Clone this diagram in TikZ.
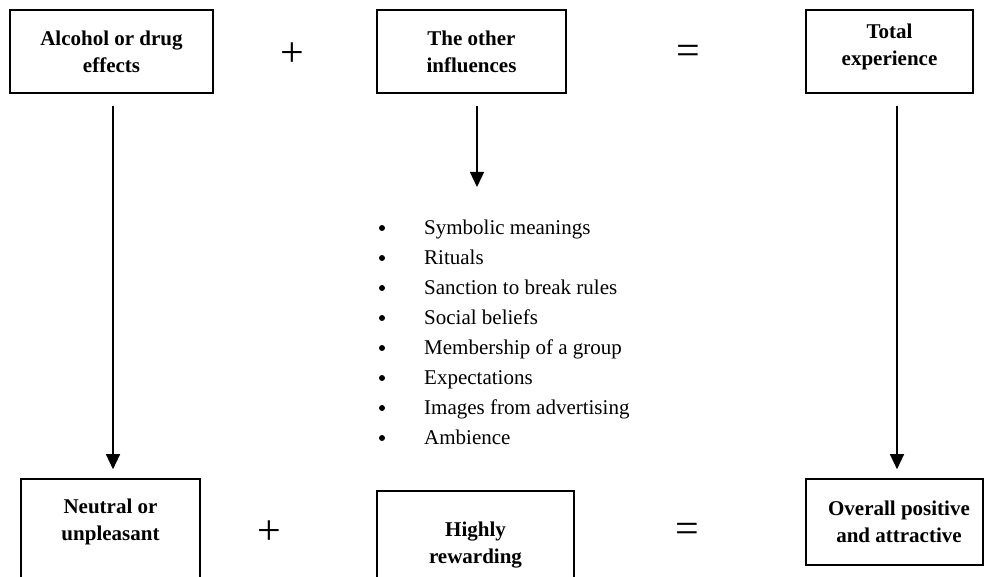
\documentclass[tikz,border=0pt]{standalone}
\usepackage{fontspec}
\setmainfont{Liberation Serif}
\usetikzlibrary{arrows.meta}
\tikzset{
  box/.style={draw, line width=1.6pt, inner sep=0pt, align=center},
  boxtext/.style={font=\fontsize{21}{27}\selectfont\bfseries, align=center, inner sep=0pt},
  arr/.style={line width=1.3pt, -{Triangle[width=14pt,length=15pt]}},
  op/.style={font=\fontsize{42}{42}\selectfont, inner sep=0pt},
  item/.style={font=\fontsize{21}{25}\selectfont, anchor=mid west, inner sep=0pt},
  dot/.style={circle, fill=black, inner sep=0pt, minimum size=6pt}
}
\begin{document}
\begin{tikzpicture}[x=1pt, y=-1pt]
\useasboundingbox (0,0) rectangle (984,577);
\clip (0,0) rectangle (984,577);
% top row
\node[box, boxtext, minimum width=203pt, minimum height=83pt] (b1) at (111.5,51.5) {Alcohol or drug\\effects};
\node[box, boxtext, minimum width=189pt, minimum height=83pt] (b2) at (471.5,51.5) {The other\\influences};
\node[box, minimum width=167pt, minimum height=83pt] (b3) at (889.5,51.5) {};
\node[boxtext] (t3) at (889.5,46.5) {Total\\experience};
\node[op] (p1) at (292,55) {+};
\node[op] (e1) at (688,55) {=};
% bottom row
\node[box, minimum width=179pt, minimum height=121pt] (b4) at (110.5,539.5) {};
\node[boxtext] (t4) at (110.5,522) {Neutral or\\unpleasant};
\node[box, minimum width=197pt, minimum height=109pt] (b5) at (475.5,545.5) {};
\node[boxtext] (t5) at (475.5,545) {Highly\\rewarding};
\node[box, minimum width=177pt, minimum height=86pt] (b6) at (894.5,522) {};
\node[boxtext] (t6) at (899,522) {Overall positive\\and attractive};
\node[op] (p2) at (269,533) {+};
\node[op] (e2) at (687,533) {=};
% arrows
\coordinate (xl) at (113,0);
\coordinate (xr) at (897,0);
\coordinate (mend) at (477,187);
\draw[arr, shorten <=12pt, shorten >=9pt] (b1.south -| xl) -- (b4.north -| xl);
\draw[arr, shorten <=12pt, shorten >=9pt] (b3.south -| xr) -- (b6.north -| xr);
\draw[arr, shorten <=12pt] (b2.south -| mend) -- (mend);
% list
\foreach \t [count=\i] in {Symbolic meanings, Rituals, Sanction to break rules, Social beliefs, Membership of a group, Expectations, Images from advertising, Ambience} {
  \node[item] (it\i) at (424, {232+30*(\i-1)}) {\t};
  \node[dot] (bu\i) at (382, {228+30*(\i-1)}) {};
}
\end{tikzpicture}
\end{document}
